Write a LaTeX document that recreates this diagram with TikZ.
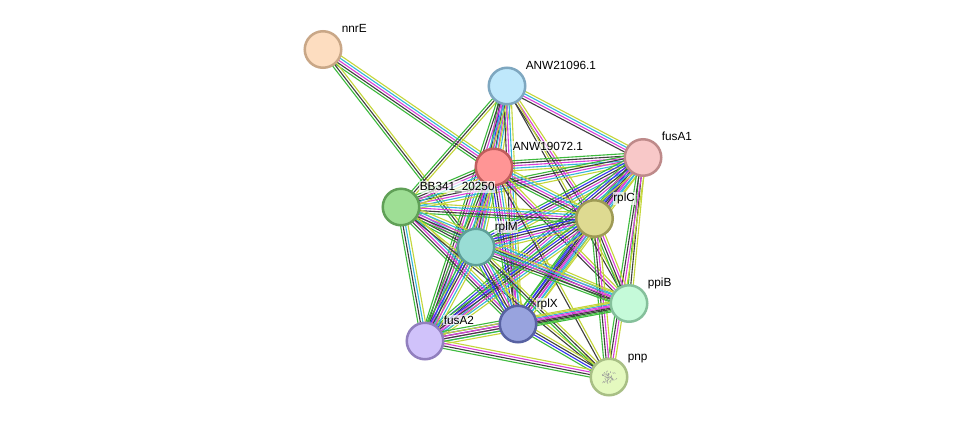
\documentclass[tikz,border=0pt]{standalone}
\usepackage{fontspec}
\setmainfont{Liberation Sans}
\usetikzlibrary{calc}
\definecolor{eg}{HTML}{3DBA3D}
\definecolor{ek}{HTML}{3F3F3F}
\definecolor{em}{HTML}{D93FD9}
\definecolor{ec}{HTML}{35B6DA}
\definecolor{ey}{HTML}{C4D63A}
\definecolor{eb}{HTML}{3434F0}
\definecolor{fE}{HTML}{FDDDC0}\definecolor{dE}{HTML}{C9A787}
\definecolor{fAb}{HTML}{BFE8FB}\definecolor{dAb}{HTML}{7EA7C0}
\definecolor{fFa}{HTML}{F8C8C8}\definecolor{dFa}{HTML}{BE8A8A}
\definecolor{fAa}{HTML}{FF9595}\definecolor{dAa}{HTML}{C05D5D}
\definecolor{fB}{HTML}{9EDE95}\definecolor{dB}{HTML}{60A057}
\definecolor{fC}{HTML}{DEDA91}\definecolor{dC}{HTML}{9E9A55}
\definecolor{fM}{HTML}{99DDD5}\definecolor{dM}{HTML}{5E9F99}
\definecolor{fP}{HTML}{C5FAD9}\definecolor{dP}{HTML}{85C09B}
\definecolor{fX}{HTML}{98A3DE}\definecolor{dX}{HTML}{5862A2}
\definecolor{fFb}{HTML}{D0C2FA}\definecolor{dFb}{HTML}{917FBE}
\definecolor{fN}{HTML}{E4F9BF}\definecolor{dN}{HTML}{A8BF85}
\pgfdeclarelayer{back}
\pgfdeclarelayer{bg}
\pgfsetlayers{back,bg,main}
\newcounter{ncol}
\newcommand\lnk[3]{%
  \setcounter{ncol}{0}%
  \foreach \q in {#3}{\stepcounter{ncol}}%
  \foreach \col [count=\i] in {#3}{%
    \pgfmathsetmacro\off{(\i-(\thencol+1)/2)*2.5}%
    \draw[edge,\col] ($(#1.center)!\off pt!90:(#2.center)$) -- ($(#2.center)!\off pt!-90:(#1.center)$);
  }}
\tikzset{
  prot/.style={circle, minimum size=36.5pt, inner sep=0pt, line width=2.5pt},
  edge/.style={line width=1.1pt},
  lbl/.style={anchor=base west, inner sep=0.6pt, fill=white, fill opacity=0.7, text opacity=1, font=\fontsize{11.8}{14}\selectfont}
}
\begin{document}
\begin{tikzpicture}[x=1pt,y=-1pt]
\begin{pgfonlayer}{back}
\fill[white] (0,0) rectangle (975,421);
\end{pgfonlayer}
\useasboundingbox (0,0) rectangle (975,421);
% nodes
\node[prot, fill=fE, draw=dE] (E) at (323,49.5) {};
\node[prot, fill=fAb, draw=dAb] (A2) at (507,86) {};
\node[prot, fill=fFa, draw=dFa] (F1) at (643,157.5) {};
\node[prot, fill=fAa, draw=dAa] (A1) at (494,167) {};
\node[prot, fill=fB, draw=dB] (B) at (401,207) {};
\node[prot, fill=fC, draw=dC] (C) at (594.5,218.5) {};
\node[prot, fill=fM, draw=dM] (M) at (476,247) {};
\node[prot, fill=fP, draw=dP] (P) at (629,303.5) {};
\node[prot, fill=fX, draw=dX] (X) at (518,324) {};
\node[prot, fill=fFb, draw=dFb] (F2) at (425,341) {};
\node[prot, fill=fN, draw=dN] (N) at (609,377) {};
% pnp structure texture
\pgfmathsetseed{7}
\foreach \k in {1,...,40}{
  \pgfmathsetmacro\ax{609+7*rand}\pgfmathsetmacro\ay{377+5*rand}
  \pgfmathsetmacro\bx{\ax+2.5*rand}\pgfmathsetmacro\by{\ay+2.5*rand}
  \draw[gray!80, line width=0.5pt] (\ax,\ay) -- (\bx,\by);
}
% edges
\begin{pgfonlayer}{bg}
\lnk{E}{A1}{eg,ek,em,ec,ey}
\lnk{E}{M}{eg,ek,ey}
\lnk{A2}{F1}{ek,em,ec,ey}
\lnk{A2}{B}{eg,ek,ey}
\lnk{A2}{A1}{eg,eb,ek,em,ec,ey}
\lnk{A2}{M}{ek,em,ec,ey}
\lnk{A2}{C}{ek,em,ey}
\lnk{A2}{X}{ek,em,ec,ey}
\lnk{A2}{F2}{eg,ek,em,ec,ey}
\lnk{A2}{P}{ek,ey}
\lnk{F1}{A1}{eg,ek,em,ec,ey}
\lnk{F1}{B}{eg,ek,em,ec,ey}
\lnk{F1}{C}{eg,eb,ek,em,ec,ey}
\lnk{F1}{M}{eg,eb,ek,em,ec,ey}
\lnk{F1}{X}{eg,eb,ek,em,ec,ey}
\lnk{F1}{F2}{eg,eb,ek,em,ec,ey}
\lnk{F1}{P}{eg,ek,ey}
\lnk{F1}{N}{eg,ek,em,ey}
\lnk{A1}{B}{eg,ek,em,ec,ey}
\lnk{A1}{C}{eg,ek,em,ec,ey}
\lnk{A1}{M}{eg,eb,ek,em,ec,ey}
\lnk{A1}{X}{eg,eb,ek,em,ec,ey}
\lnk{A1}{F2}{eg,ek,em,ec,ey}
\lnk{A1}{P}{ek,em,ey}
\lnk{A1}{N}{ek,ey}
\lnk{B}{C}{eg,ek,em,ec,ey}
\lnk{B}{M}{eg,ek,em,ec,ey}
\lnk{B}{X}{eg,ek,em,ec,ey}
\lnk{B}{F2}{eg,ek,ec,ey}
\lnk{B}{P}{eg,ek,em,ec,ey}
\lnk{B}{N}{ek,ey}
\lnk{C}{M}{eg,eb,ek,em,ec,ey}
\lnk{C}{X}{eg,eb,ek,em,ec,ey}
\lnk{C}{F2}{eg,eb,ek,em,ec,ey}
\lnk{C}{P}{eg,ek,em,ey}
\lnk{C}{N}{eg,ek,em,ey}
\lnk{M}{X}{eg,eb,ek,em,ec,ey}
\lnk{M}{F2}{eg,eb,ek,em,ec,ey}
\lnk{M}{P}{eg,ek,em,ec,ey}
\lnk{M}{N}{eg,ek,ey}
\lnk{X}{F2}{eg,eb,ek,em,ec,ey}
\lnk{X}{P}{eg,ek,em,ec,ey}
\lnk{X}{N}{eg,eb,ek,ey}
\lnk{F2}{N}{eg,ek,em,ey}
\lnk{F2}{P}{eg,ek,em,ey}
\end{pgfonlayer}
% labels
\node[lbl] (lE) at ($(E)+(18,-17)$) {nnrE};
\node[lbl] (lA2) at ($(A2)+(18,-17)$) {ANW21096.1};
\node[lbl] (lF1) at ($(F1)+(18,-17)$) {fusA1};
\node[lbl] (lA1) at ($(A1)+(18,-17)$) {ANW19072.1};
\node[lbl] (lB) at ($(B)+(18,-17)$) {BB341\_20250};
\node[lbl] (lC) at ($(C)+(18,-17)$) {rplC};
\node[lbl] (lM) at ($(M)+(18,-17)$) {rplM};
\node[lbl] (lP) at ($(P)+(18,-17)$) {ppiB};
\node[lbl] (lX) at ($(X)+(18,-17)$) {rplX};
\node[lbl] (lF2) at ($(F2)+(18,-17)$) {fusA2};
\node[lbl] (lN) at ($(N)+(18,-17)$) {pnp};
\end{tikzpicture}
\end{document}
